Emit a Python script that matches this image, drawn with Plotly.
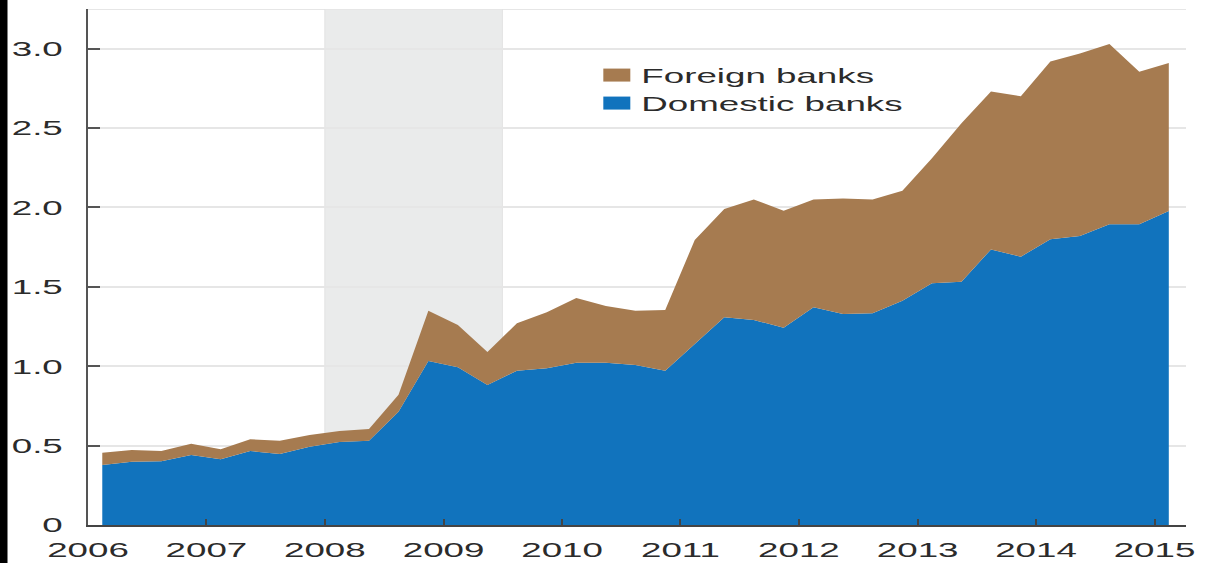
import pandas as pd
import plotly.graph_objects as go

# Quarterly observations, 2006Q1 .. 2015Q1
quarters = pd.period_range("2006Q1", "2015Q1", freq="Q")
dates = [(p.start_time + (p.end_time - p.start_time) / 2).strftime("%Y-%m-%d") for p in quarters]

domestic = [0.378, 0.399, 0.401, 0.441, 0.414, 0.466, 0.447, 0.493, 0.523, 0.531,
            0.714, 1.033, 0.993, 0.882, 0.972, 0.987, 1.022, 1.022, 1.008, 0.972,
            1.140, 1.308, 1.291, 1.243, 1.371, 1.329, 1.333, 1.413, 1.522, 1.532,
            1.736, 1.690, 1.799, 1.820, 1.894, 1.895, 1.977]
foreign = [0.077, 0.073, 0.065, 0.071, 0.063, 0.074, 0.084, 0.074, 0.069, 0.074,
           0.106, 0.317, 0.267, 0.208, 0.298, 0.353, 0.408, 0.358, 0.342, 0.382,
           0.655, 0.682, 0.759, 0.737, 0.679, 0.728, 0.717, 0.692, 0.788, 0.998,
           0.994, 1.010, 1.121, 1.150, 1.136, 0.960, 0.933]

years = list(range(2006, 2016))
year_ticks = [f"{y}-01-01" for y in years]
year_labels = [str(y) for y in years]

y_ticks = [0, 0.5, 1.0, 1.5, 2.0, 2.5, 3.0]
y_labels = ["0", "0.5", "1.0", "1.5", "2.0", "2.5", "3.0"]

recession = ("2008-01-01", "2009-07-01")

BLUE = "#1173bd"
BROWN = "#a67b50"
TXT = "#2b2b2b"
FONT = "Liberation Sans, Arial, sans-serif"
FS = 21

fig = go.Figure()
fig.add_trace(go.Scatter(x=dates, y=domestic, name="Domestic banks", stackgroup="one",
                         mode="none", fillcolor=BLUE, line=dict(width=0)))
fig.add_trace(go.Scatter(x=dates, y=foreign, name="Foreign banks", stackgroup="one",
                         mode="none", fillcolor=BROWN, line=dict(width=0)))

fig.add_shape(type="rect", xref="x", yref="y", x0=recession[0], x1=recession[1], y0=0, y1=3.25,
              fillcolor="#eaebeb", line=dict(color="#e2e2e2", width=1), layer="below")
# top frame line
fig.add_shape(type="line", xref="paper", yref="y", x0=0, x1=1, y0=3.25, y1=3.25,
              line=dict(color="#e6e6e6", width=2), layer="below")
# black bar at the left edge of the image
fig.add_shape(type="rect", xref="paper", yref="paper", x0=-88/1098, x1=-80.5/1098,
              y0=-0.2, y1=1.2, fillcolor="black", line=dict(width=0))

fig.update_layout(
    width=1205, height=563,
    margin=dict(l=88, r=19, t=9, b=38),
    paper_bgcolor="white", plot_bgcolor="white",
    font=dict(family=FONT, size=FS, color=TXT),
    showlegend=True,
    legend=dict(x=0.4675, y=0.911, xanchor="left", yanchor="top", traceorder="reversed",
                bgcolor="rgba(0,0,0,0)", font=dict(size=FS, color=TXT),
                itemwidth=30, tracegroupgap=0),
    xaxis=dict(type="date", range=["2006-01-01", "2015-04-08"], automargin=False,
               tickvals=year_ticks, ticktext=year_labels,
               showgrid=False, zeroline=False,
               showline=True, linecolor="#444444", linewidth=2,
               ticks="inside", ticklen=6, tickwidth=2, tickcolor="#444444",
               ticklabelstandoff=5, tickfont=dict(size=FS, color=TXT)),
    yaxis=dict(range=[0, 3.25], tickvals=y_ticks, ticktext=y_labels, automargin=False,
               showgrid=True, gridcolor="#e6e6e6", gridwidth=2, zeroline=False,
               showline=True, linecolor="#555555", linewidth=2,
               ticks="inside", ticklen=12, tickwidth=2, tickcolor="#555555",
               ticklabelstandoff=19, tickfont=dict(size=FS, color=TXT)),
)

# The page body has no margin in the reference, and its lettering is horizontally
# stretched; reproduce that on the real text elements.
post = """
document.body.style.margin = '0';
var gd = document.getElementById('{plot_id}');
function stretch(sel, s) {
  gd.querySelectorAll(sel).forEach(function (t) {
    var b = t.getBBox();
    var a = t.getAttribute('text-anchor') || 'start';
    var ax = a === 'end' ? b.x + b.width : (a === 'middle' ? b.x + b.width / 2 : b.x);
    var tr = t.getAttribute('transform') || '';
    t.setAttribute('transform', tr + ' translate(' + ax + ',0) scale(' + s + ',1) translate(' + (-ax) + ',0)');
  });
}
stretch('.xtick text', 1.75);
stretch('.ytick text', 1.75);
stretch('.legendtext', 1.75);
gd.querySelectorAll('.legend [clip-path]').forEach(function (e) { e.removeAttribute('clip-path'); });
gd.querySelectorAll('.legendfill path').forEach(function (p) {
  p.setAttribute('d', 'M2,-6.5h27v13h-27z');
});
var items = gd.querySelectorAll('.legend .traces');
var y0 = null;
items.forEach(function (g, i) {
  var m = /translate\\(([-\\d.]+),\\s*([-\\d.]+)\\)/.exec(g.getAttribute('transform') || '');
  if (!m) return;
  if (y0 === null) y0 = parseFloat(m[2]);
  g.setAttribute('transform', 'translate(' + m[1] + ',' + (y0 + i * 28) + ')');
});
"""

fig.write_html("out.html", post_script=post, config={"displayModeBar": False})
